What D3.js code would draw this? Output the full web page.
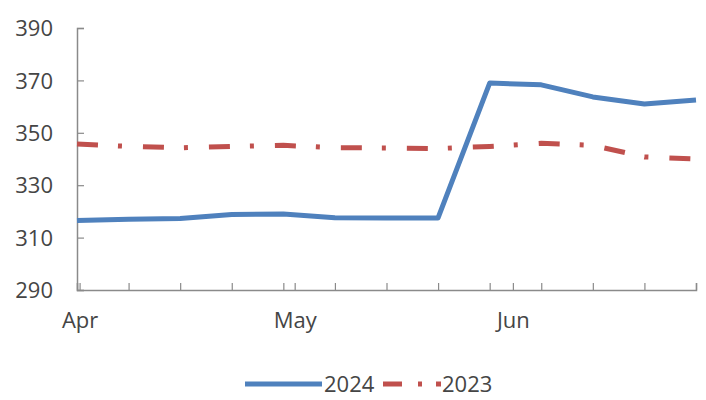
<!DOCTYPE html>
<html>
<head>
<meta charset='UTF-8' />
<style>
  body { margin: 0; background: #ffffff; }
  text { font-family: 'Open Sans', sans-serif; fill: #454545; }
</style>
</head>
<body>
<script src='https://d3js.org/d3.v7.min.js'></script>
<script>
'use strict';
// weekly values, Apr to end of Jun
const series2024 = [316.5, 317, 317.3, 318.8, 319, 317.6, 317.5, 317.5, 369, 368.3, 363.7, 361, 362.5];
const series2023 = [345.7, 344.8, 344.3, 344.8, 345.2, 344.3, 344.2, 344.0, 344.8, 346.0, 345.2, 340.8, 340.0];
const yTicks = [290, 310, 330, 350, 370, 390];
const monthLabels = ['Apr', 'May', 'Jun'];
const monthWeeks = [0.05, 4.22, 8.45]; // month starts, in weeks from first point

const width = 706, height = 400;
const margin = {top: 28, right: 10, bottom: 110, left: 77};

const svg = d3.select('body').append('svg')
  .attr('width', width)
  .attr('height', height);

const x = d3.scaleLinear()
  .domain([0, series2024.length - 1])
  .range([margin.left, 696]);

const y = d3.scaleLinear()
  .domain([290, 390])
  .range([290, margin.top]);

const axisColor = '#8a8a8a';

// y axis
const gy = svg.append('g')
  .attr('transform', 'translate(' + margin.left + ',0)')
  .call(d3.axisLeft(y).tickValues(yTicks).tickSize(-7).tickPadding(24).tickFormat(d3.format('d')));
gy.select('.domain').attr('stroke', axisColor).attr('stroke-width', 1.5);
gy.selectAll('.tick line').attr('stroke', axisColor).attr('stroke-width', 1.2);
gy.selectAll('.tick text').attr('font-size', 22).attr('font-family', null).attr('dy', '0.35em');

// x axis: weekly ticks
const gx = svg.append('g')
  .attr('transform', 'translate(0,' + y(290) + ')')
  .call(d3.axisBottom(x).tickValues(d3.range(series2024.length)).tickSize(-7).tickFormat(''));
gx.select('.domain').attr('stroke', axisColor).attr('stroke-width', 1.5);
gx.selectAll('.tick line').attr('stroke', axisColor).attr('stroke-width', 1.2);

// month ticks and labels
const gm = svg.append('g')
  .attr('transform', 'translate(0,' + y(290) + ')')
  .call(d3.axisBottom(x).tickValues(monthWeeks).tickSize(-7).tickPadding(22)
    .tickFormat((d, i) => monthLabels[i]));
gm.select('.domain').remove();
gm.selectAll('.tick line').attr('stroke', axisColor).attr('stroke-width', 1.2);
gm.selectAll('.tick text').attr('font-size', 22).attr('font-family', null);

const line = d3.line()
  .x((d, i) => x(i))
  .y(d => y(d));

svg.append('path')
  .datum(series2023)
  .attr('d', line)
  .attr('fill', 'none')
  .attr('stroke', '#c0504d')
  .attr('stroke-width', 5)
  .attr('stroke-dasharray', '21,20,4,21');

svg.append('path')
  .datum(series2024)
  .attr('d', line)
  .attr('fill', 'none')
  .attr('stroke', '#4f81bd')
  .attr('stroke-width', 5)
  .attr('stroke-linejoin', 'round');

// legend
const legendY = 384;
const legend = svg.append('g');
legend.append('line')
  .attr('x1', 245).attr('x2', 322).attr('y1', legendY).attr('y2', legendY)
  .attr('stroke', '#4f81bd').attr('stroke-width', 5);
legend.append('text')
  .attr('x', 324).attr('y', legendY).attr('dy', '0.36em')
  .attr('font-size', 22).text('2024');
legend.append('line')
  .attr('x1', 383).attr('x2', 441).attr('y1', legendY).attr('y2', legendY)
  .attr('stroke', '#c0504d').attr('stroke-width', 5)
  .attr('stroke-dasharray', '19,16,4,14');
legend.append('text')
  .attr('x', 442).attr('y', legendY).attr('dy', '0.36em')
  .attr('font-size', 22).text('2023');
</script>
</body>
</html>
